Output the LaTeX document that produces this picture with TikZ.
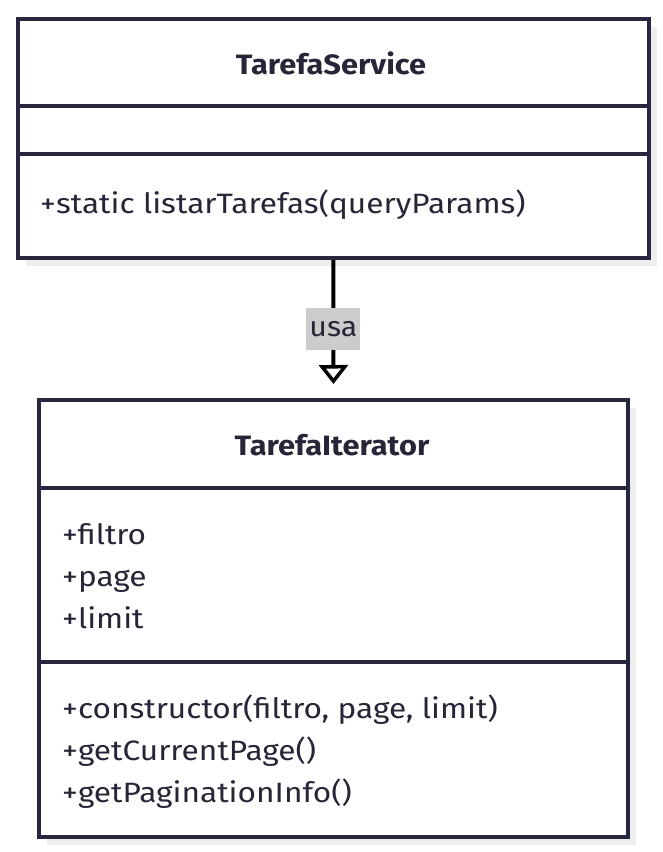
\documentclass[tikz,border=0pt]{standalone}
\usepackage{fontspec}
\setmainfont{Fira Sans}
\usetikzlibrary{arrows.meta,positioning,shadows}
\definecolor{umlline}{HTML}{272740}
\definecolor{umltext}{HTML}{262638}
\definecolor{umlshadow}{HTML}{EEEEEE}
\definecolor{umllabel}{HTML}{CCCCCC}
\tikzset{
  classbox/.style={draw=umlline, line width=4pt, fill=white, anchor=north west, inner sep=0pt,
    drop shadow={shadow xshift=8pt, shadow yshift=-8pt, fill=umlshadow, opacity=1}},
  divider/.style={draw=umlline, line width=4pt},
  classtitle/.style={anchor=base, inner sep=0pt, text=umltext, xscale=1.1, font=\fontsize{28}{32}\selectfont\bfseries},
  member/.style={anchor=base west, inner sep=0pt, text=umltext, xscale=1.13, font=\fontsize{28}{32}\selectfont},
  usesarrow/.style={draw=black, line width=4pt, -{Triangle[open, length=19pt, width=29pt, line width=3.5pt]}, shorten >=14pt},
  uselabel/.style={fill=umllabel, text=umltext, inner sep=0pt, minimum width=50pt, minimum height=42pt, xscale=1.08, font=\fontsize{28}{32}\selectfont}
}
\begin{document}
\begin{tikzpicture}[x=1pt, y=-1pt]
\useasboundingbox (0,0) rectangle (663,852);
%%%%% TarefaService %%%%%
\node[classbox, minimum width=631.5pt, minimum height=239pt] (svc) at (15.5,17) {};
\draw[divider] ([yshift=-89pt]svc.north west) -- ([yshift=-89pt]svc.north east);
\draw[divider] ([yshift=-137pt]svc.north west) -- ([yshift=-137pt]svc.north east);
\node[classtitle] (svctitle) at (331,74) {TarefaService};
\node[member] (svcop1) at (40,213) {+static listarTarefas(queryParams)};
%%%%% TarefaIterator %%%%%
\node[classbox, minimum width=589pt, minimum height=437pt] (iter) at (37,398) {};
\draw[divider] ([yshift=-90pt]iter.north west) -- ([yshift=-90pt]iter.north east);
\draw[divider] ([yshift=-264pt]iter.north west) -- ([yshift=-264pt]iter.north east);
\node[classtitle] (itertitle) at (332,455) {TarefaIterator};
\foreach \txt [count=\i] in {+filtro,+page,+limit}{
\node[member] (iterattr\i) at (62,502+42*\i) {\txt};
}
\foreach \txt [count=\i] in {{+constructor(filtro, page, limit)},{+getCurrentPage()},{+getPaginationInfo()}}{
\node[member] (iterop\i) at (62,676+42*\i) {\txt};
}
%%%%% Relation %%%%%
\draw[usesarrow] (svc.south) -- node[uselabel] (usa) {usa} (iter.north);
\end{tikzpicture}
\end{document}
